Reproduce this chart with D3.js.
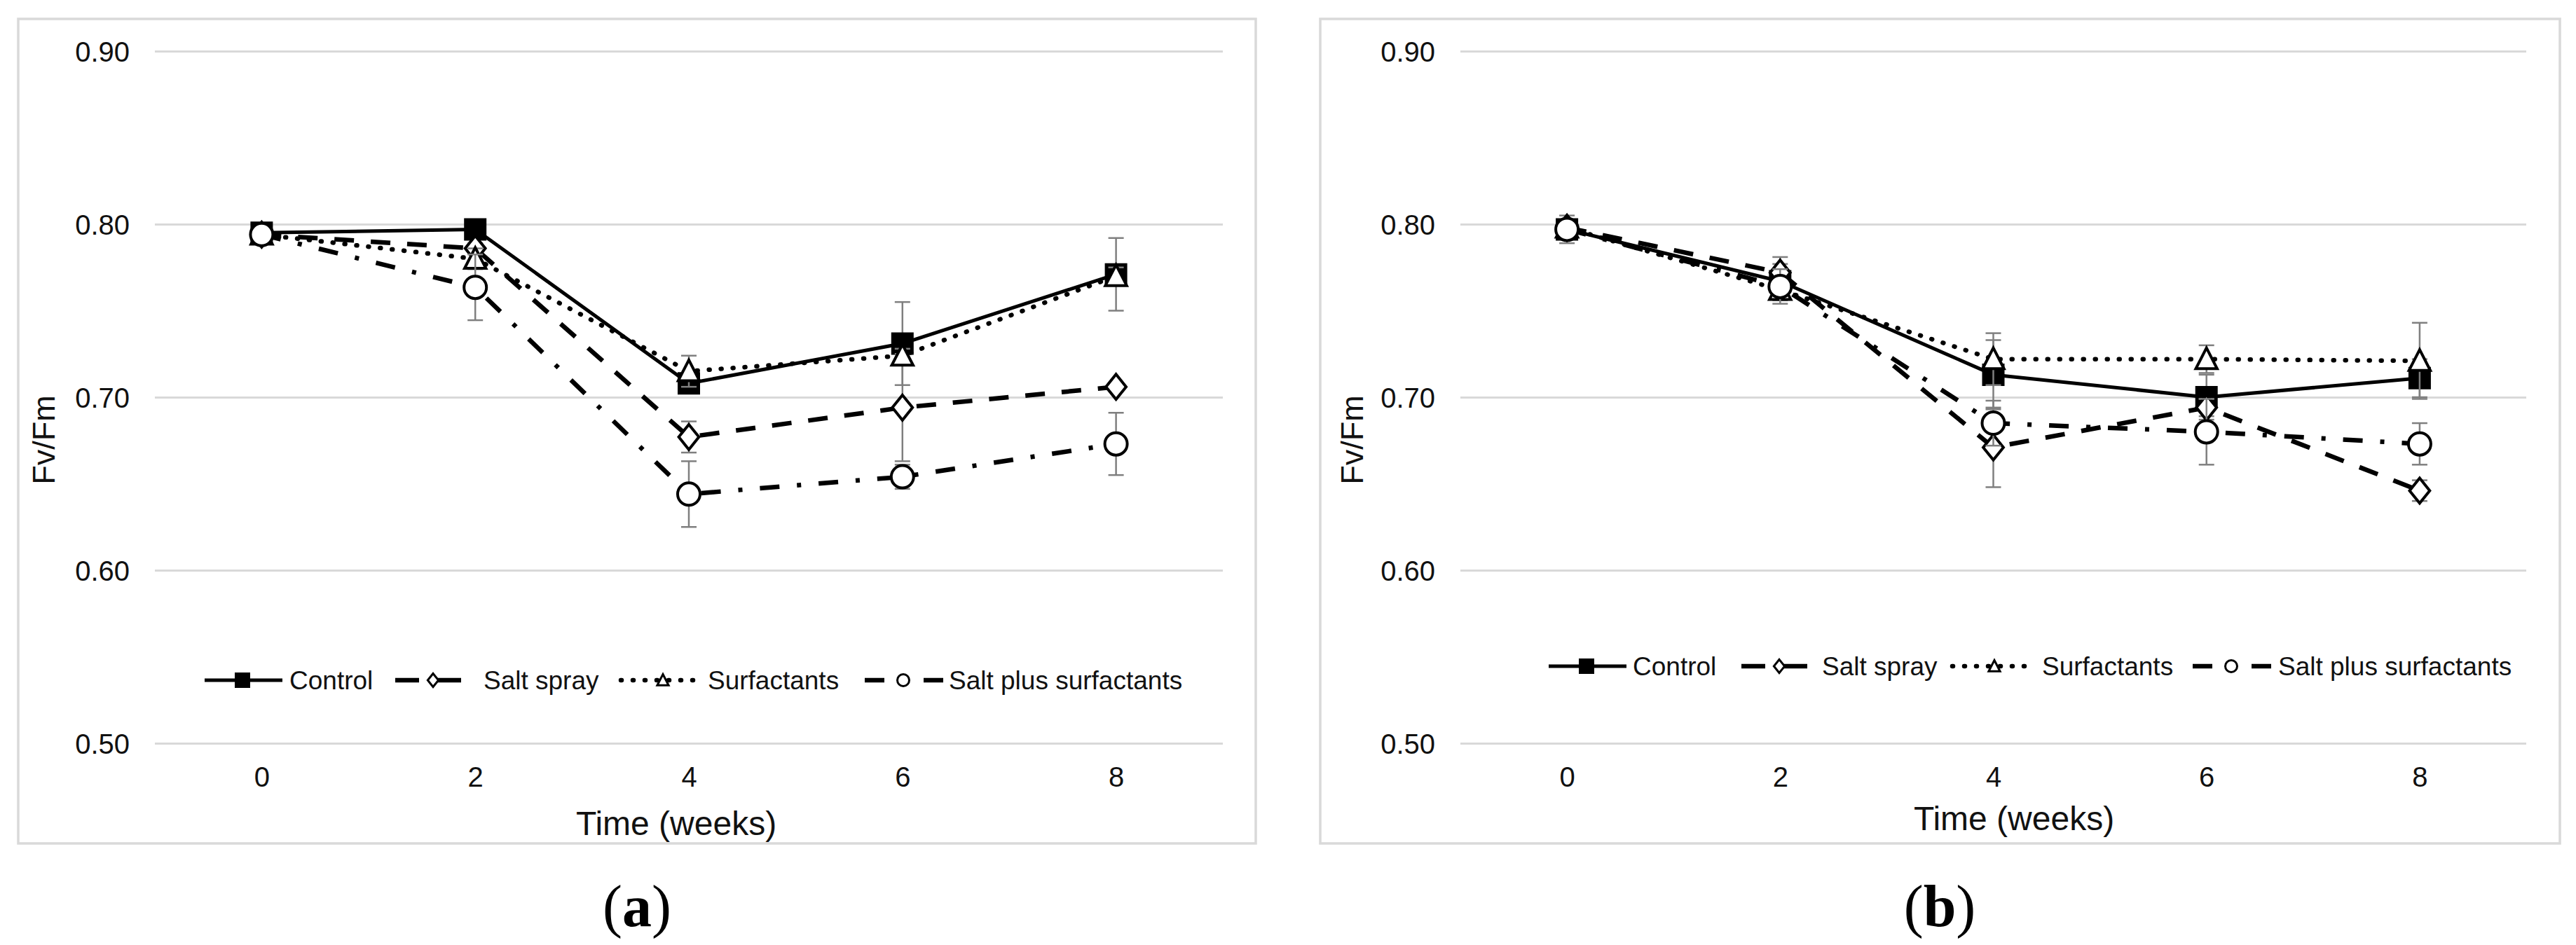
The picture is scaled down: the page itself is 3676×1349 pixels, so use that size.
<!DOCTYPE html>
<html><head><meta charset="utf-8">
<script src="https://cdn.jsdelivr.net/npm/d3@7/dist/d3.min.js"></script>
<style>body{margin:0;background:#fff}</style>
</head><body><svg id="c" width="3676" height="1349" xmlns="http://www.w3.org/2000/svg"></svg>
<script>
// ---------- DATA ----------
const weeks = [0, 2, 4, 6, 8];
const xTickLabels = ["0", "2", "4", "6", "8"];
const yTicks = [0.5, 0.6, 0.7, 0.8, 0.9];
const yTickLabels = ["0.50", "0.60", "0.70", "0.80", "0.90"];
const seriesNames = ["Control", "Salt spray", "Surfactants", "Salt plus surfactants"];
const panelLabels = ["a", "b"];
const xTitle = "Time (weeks)";
const yTitle = "Fv/Fm";

// panel (a)
const controlA   = [0.795, 0.797, 0.708, 0.731, 0.771];
const saltA      = [0.794, 0.786, 0.677, 0.694, 0.706];
const surfA      = [0.794, 0.780, 0.715, 0.724, 0.770];
const saltSurfA  = [0.794, 0.7635, 0.644, 0.654, 0.673];
const controlAErr  = [0.002, 0.002, 0.003, 0.024, 0.021];
const saltAErr     = [0.002, 0.003, 0.009, 0.031, 0.002];
const surfAErr     = [0.002, 0.006, 0.009, 0.004, 0.005];
const saltSurfAErr = [0.002, 0.019, 0.019, 0.007, 0.018];

// panel (b)
const controlB   = [0.797, 0.767, 0.713, 0.700, 0.711];
const saltB      = [0.798, 0.772, 0.671, 0.694, 0.646];
const surfB      = [0.798, 0.762, 0.722, 0.722, 0.721];
const saltSurfB  = [0.797, 0.764, 0.685, 0.680, 0.673];
const controlBErr  = [0.008, 0.010, 0.020, 0.013, 0.011];
const saltBErr     = [0.004, 0.009, 0.023, 0.005, 0.006];
const surfBErr     = [0.004, 0.006, 0.015, 0.008, 0.022];
const saltSurfBErr = [0.004, 0.010, 0.013, 0.019, 0.012];

// ---------- LAYOUT / STYLE ----------
const FONT = "'Liberation Sans', Arial, Helvetica, sans-serif";
const TXT = "#111";
const GRID = "#d9d9d9";
const styles = [
  {dash: null, width: 5, marker: "square", leg: [-54, 57]},
  {dash: "28 24", width: 6.5, marker: "diamond", leg: [-54, 40], legDash: "34 26"},
  {dash: "1 16", width: 6.5, marker: "triangle", cap: "round", leg: [-60, 45]},
  {dash: "28 25 6 25", width: 6.5, marker: "circle", leg: [-55, 58]}
];

const panels = [
  {border: [26, 27, 1792, 1204], plot: [221, 1745], labelEnd: 185, yTitleX: 62,
   xTitleX: 965, xTitleY: 1175, legendY: 971, legendStart: 292,
   legendOff: [[54, 121], [326, 398], [654, 718], [997, 1062]], labelCx: 909,
   values: [controlA, saltA, surfA, saltSurfA], errs: [controlAErr, saltAErr, surfAErr, saltSurfAErr]},
  {border: [1884, 27, 3653, 1204], plot: [2084, 3605], labelEnd: 2048, yTitleX: 1929,
   xTitleX: 2874, xTitleY: 1168, legendY: 951, legendStart: 2211,
   legendOff: [[53, 119], [328, 389], [635, 703], [973, 1040]], labelCx: 2768,
   values: [controlB, saltB, surfB, saltSurfB], errs: [controlBErr, saltBErr, surfBErr, saltSurfBErr]}
];

function markerPath(type, s) {
  const h = s / 2;
  if (type === "square") return `M${-h},${-h}H${h}V${h}H${-h}Z`;
  if (type === "diamond") return `M0,${-h * 1.12}L${h * 0.9},0L0,${h * 1.12}L${-h * 0.9},0Z`;
  if (type === "triangle") return `M0,${-h}L${h * 0.95},${h * 0.85}L${-h * 0.95},${h * 0.85}Z`;
  const r = h;
  return `M${r},0A${r},${r} 0 1,1 ${-r},0A${r},${r} 0 1,1 ${r},0Z`;
}
function drawMarker(g, type, s, sw) {
  const p = g.append("path").attr("d", markerPath(type, s));
  if (type === "square") p.attr("fill", "#000").attr("stroke", "none");
  else p.attr("fill", "#fff").attr("stroke", "#000").attr("stroke-width", sw);
  return p;
}

const svg = d3.select("#c");
svg.append("rect").attr("width", 3676).attr("height", 1349).attr("fill", "#fff");

const y = d3.scaleLinear().domain([0.5, 0.9]).range([1061, 73]);

panels.forEach((P, pi) => {
  const g = svg.append("g");
  const [bx0, by0, bx1, by1] = P.border;
  g.append("rect").attr("x", bx0).attr("y", by0).attr("width", bx1 - bx0).attr("height", by1 - by0)
    .attr("fill", "#fff").attr("stroke", GRID).attr("stroke-width", 3.5);

  const x = d3.scalePoint().domain(weeks).range(P.plot).padding(0.5);

  const yAxis = d3.axisLeft(y).tickValues(yTicks).tickSize(-(P.plot[1] - P.plot[0]))
    .tickFormat((d, i) => yTickLabels[i]).tickPadding(P.plot[0] - P.labelEnd);
  const ya = g.append("g").attr("transform", `translate(${P.plot[0]},0)`).call(yAxis);
  ya.select(".domain").remove();
  ya.selectAll(".tick line").attr("stroke", GRID).attr("stroke-width", 3);
  ya.selectAll(".tick text").attr("font-family", FONT).attr("font-size", 40).attr("fill", TXT)
    .attr("dy", null).attr("dominant-baseline", "central");

  const xAxis = d3.axisBottom(x).tickSize(0).tickFormat((d, i) => xTickLabels[i]).tickPadding(0);
  const xa = g.append("g").attr("transform", `translate(0,1109)`).call(xAxis);
  xa.select(".domain").remove();
  xa.selectAll(".tick text").attr("font-family", FONT).attr("font-size", 40).attr("fill", TXT)
    .attr("y", 0).attr("dy", null).attr("dominant-baseline", "central");

  g.append("text").attr("x", P.xTitleX).attr("y", P.xTitleY).attr("text-anchor", "middle")
    .attr("dominant-baseline", "central").attr("font-family", FONT).attr("font-size", 48)
    .attr("fill", TXT).text(xTitle);
  g.append("text").attr("transform", `translate(${P.yTitleX},628) rotate(-90)`)
    .attr("text-anchor", "middle").attr("dominant-baseline", "central")
    .attr("font-family", FONT).attr("font-size", 45).attr("fill", TXT).text(yTitle);

  P.values.forEach((vals, si) => {
    const st = styles[si];
    const errs = P.errs[si];
    const sg = g.append("g");
    weeks.forEach((w, i) => {
      const cx = x(w), lo = y(vals[i] - errs[i]), hi = y(vals[i] + errs[i]);
      sg.append("line").attr("x1", cx).attr("x2", cx).attr("y1", lo).attr("y2", hi)
        .attr("stroke", "#7f7f7f").attr("stroke-width", 2.5);
      [lo, hi].forEach(yy => sg.append("line").attr("x1", cx - 11).attr("x2", cx + 11)
        .attr("y1", yy).attr("y2", yy).attr("stroke", "#7f7f7f").attr("stroke-width", 2.5));
    });
    const line = d3.line().x((d, i) => x(weeks[i])).y(d => y(d));
    const lp = sg.append("path").attr("d", line(vals)).attr("fill", "none").attr("stroke", "#000")
      .attr("stroke-width", st.width).attr("stroke-linejoin", "round")
      .attr("stroke-linecap", st.cap || "butt");
    if (st.dash) lp.attr("stroke-dasharray", st.dash);
    vals.forEach((v, i) => {
      const mg = sg.append("g").attr("transform", `translate(${x(weeks[i])},${y(v)})`);
      drawMarker(mg, st.marker, st.marker === "square" ? 32 : 32, 4);
    });
  });

  const lg = g.append("g");
  seriesNames.forEach((name, si) => {
    const st = styles[si];
    const mx = P.legendStart + P.legendOff[si][0];
    const tx = P.legendStart + P.legendOff[si][1];
    const ly = P.legendY;
    const l = lg.append("line").attr("x1", mx + st.leg[0]).attr("x2", mx + st.leg[1]).attr("y1", ly).attr("y2", ly)
      .attr("stroke", "#000").attr("stroke-width", st.width).attr("stroke-linecap", st.cap || "butt");
    const ld = st.legDash || st.dash;
    if (ld) l.attr("stroke-dasharray", ld);
    const mg = lg.append("g").attr("transform", `translate(${mx},${ly})`);
    drawMarker(mg, st.marker, st.marker === "square" ? 22 : 17, 3);
    lg.append("text").attr("x", tx).attr("y", ly).attr("dominant-baseline", "central")
      .attr("font-family", FONT).attr("font-size", 37).attr("fill", TXT).text(name);
  });

  const t = svg.append("text").attr("x", P.labelCx).attr("y", 1322).attr("text-anchor", "middle")
    .attr("font-family", "'Liberation Serif', 'Times New Roman', serif").attr("font-size", 84).attr("fill", "#000");
  t.append("tspan").text("(");
  t.append("tspan").attr("font-weight", "bold").text(panelLabels[pi]);
  t.append("tspan").text(")");
});
</script></body></html>
